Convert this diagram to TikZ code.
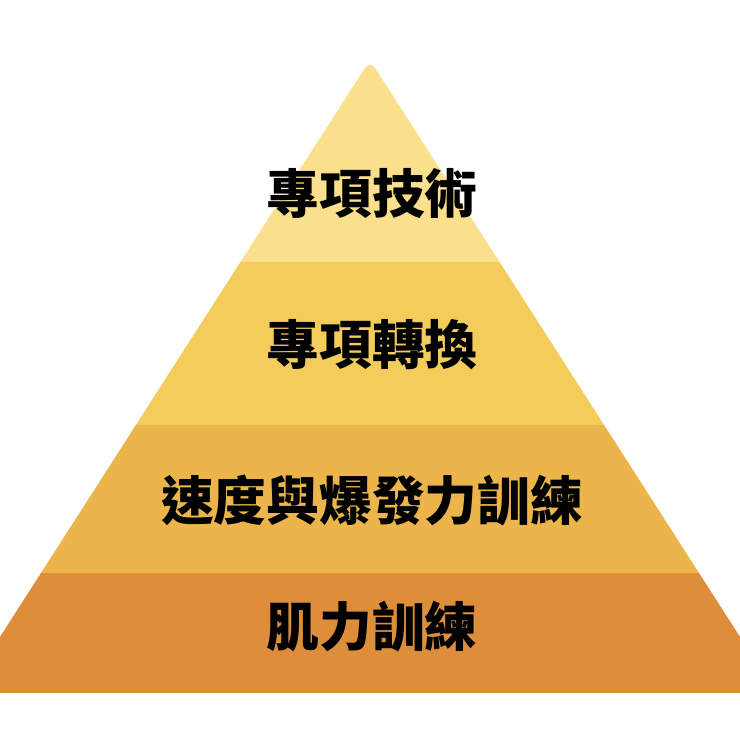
\documentclass[tikz,border=0pt]{standalone}
\usepackage{fontspec}
\newfontfamily\cjk{Noto Sans CJK TC}
\definecolor{tierone}{HTML}{FAE08C}
\definecolor{tiertwo}{HTML}{F3CC5B}
\definecolor{tierthree}{HTML}{EBB54C}
\definecolor{tierfour}{HTML}{DE8E3B}

\begin{document}
\begin{tikzpicture}[x=0.02cm, y=-0.02cm,
    tiertext/.style={font=\cjk\bfseries\fontsize{30}{34}\selectfont, text=black, inner sep=0pt}]
    \useasboundingbox (0,0) rectangle (740,740);
    \clip (0,0) rectangle (740,740);

    % Pyramid body
    \begin{scope}
        \clip (-36,693) [rounded corners=0.2cm] -- (370,60) [sharp corners] -- (776,693) -- cycle;
        \fill[tierone] (0,0) rectangle (740,262);
        \fill[tiertwo] (0,262) rectangle (740,425);
        \fill[tierthree] (0,425) rectangle (740,573);
        \fill[tierfour] (0,573) rectangle (740,693);
    \end{scope}

    % Tier labels
    \node[tiertext] (skill) at (372, 193) {專項技術};
    \node[tiertext] (transfer) at (372, 345) {專項轉換};
    \node[tiertext] (power) at (372, 500) {速度與爆發力訓練};
    \node[tiertext] (strength) at (372, 627) {肌力訓練};
\end{tikzpicture}
\end{document}
